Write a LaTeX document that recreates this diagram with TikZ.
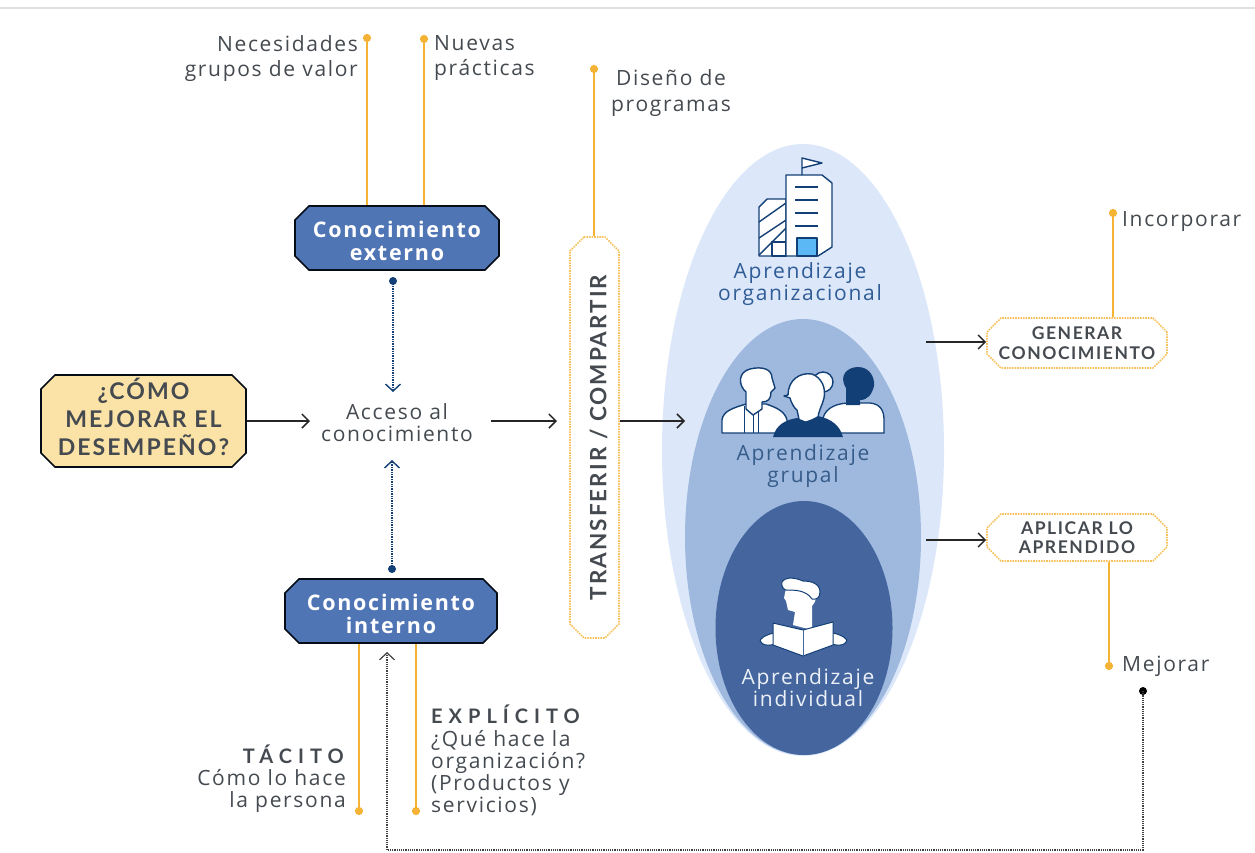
\documentclass[tikz,border=0pt]{standalone}
\usepackage{fontspec}
\setmainfont{Open Sans}[LetterSpace=8]
\newfontfamily\capsfont{Lato}[LetterSpace=9,UprightFont=* Bold]
\newfontfamily\widefont{Lato}[LetterSpace=30,UprightFont=* Bold]
\usepackage{xcolor}
\usetikzlibrary{arrows.meta,positioning,shapes.geometric,shapes.misc}
\definecolor{gold}{HTML}{F5B335}
\definecolor{ink}{HTML}{444A50}
\definecolor{navy}{HTML}{123F75}
\definecolor{boxblue}{HTML}{4F75B5}
\definecolor{cream}{HTML}{FBE2A6}
\definecolor{paleblue}{HTML}{DCE8FA}
\definecolor{midblue}{HTML}{9FB9DE}
\definecolor{deepblue}{HTML}{44659E}
\definecolor{orgtext}{HTML}{2F5C96}
\definecolor{door}{HTML}{5CB8F5}
\newcommand{\liftline}[1]{\raisebox{-1pt}[0.7em][0.2em]{#1}}

\begin{document}
\begin{tikzpicture}[
  x=1pt, y=-1pt,
  lbl/.style={font=\fontsize{21}{22}\selectfont, text=ink, inner sep=0pt},
  oval/.style={ellipse, inner sep=0pt},
  octbox/.style={chamfered rectangle, chamfered rectangle xsep=7pt, chamfered rectangle ysep=7pt,
    draw=black!80!navy, line width=1.6pt, inner sep=0pt, align=center},
  know/.style={octbox, fill=boxblue, text=white, font=\fontsize{21.5}{22.5}\bfseries\selectfont},
  verb/.style={octbox, draw=gold!80, densely dotted, text=ink, font=\capsfont\fontsize{17.5}{19.5}\selectfont},
  arrow/.style={-{Straight Barb[length=7pt,width=14pt]}, line width=1.5pt, black!85},
  dotline/.style={-{Straight Barb[length=7pt,width=15pt]}, densely dotted, line width=1.4pt, navy},
  goldline/.style={gold, line width=2.4pt, -{Circle[length=8pt]}},
  icon/.style={draw=navy, line width=1.4pt, fill=white, line join=round}
]
  \useasboundingbox (0,0) rectangle (1255,852);
  \fill[black!12] (0,7) rectangle (1255,9);

  % ovals
  \node[oval, fill=paleblue, minimum width=282pt, minimum height=612pt] (organizacional) at (803,450) {};
  \node[oval, fill=midblue, minimum width=236pt, minimum height=436pt] (grupal) at (803,537) {};
  \node[oval, fill=deepblue, minimum width=177pt, minimum height=254pt] (individual) at (804,628) {};

  \node[lbl, text=orgtext, align=center] (orgtext) at (800,284) {Aprendizaje\\organizacional};
  \node[lbl, text=navy!85, align=center] (gruptext) at (803,466) {Aprendizaje\\grupal};
  \node[lbl, text=white!80!midblue, align=center] (indtext) at (808,688) {Aprendizaje\\individual};

  % main boxes
  \node[octbox, fill=cream, text=ink, minimum width=205pt, minimum height=92pt,
    font=\capsfont\fontsize{23}{28}\selectfont] (pregunta) at (143.5,421)
    {\liftline{¿CÓMO}\\\liftline{MEJORAR EL}\\\liftline{DESEMPEÑO?}};
  \node[lbl, align=center] (acceso) at (397,423) {Acceso al\\conocimiento};
  \node[know, minimum width=204pt, minimum height=64pt] (externo) at (397,238) {\rule{0pt}{22pt}Conocimiento\\externo};
  \node[know, minimum width=212pt, minimum height=64pt] (interno) at (391,611) {\rule{0pt}{22pt}Conocimiento\\interno};
  \node[verb, rotate=90, minimum width=401pt, minimum height=49pt,
    font=\capsfont\fontsize{22.5}{24}\selectfont] (transferir) at (594.5,437.5) {\rule{0pt}{25pt}TRANSFERIR / COMPARTIR};
  \node[verb, minimum width=180pt, minimum height=50pt] (generar) at (1077,343) {GENERAR\\CONOCIMIENTO};
  \node[verb, minimum width=180pt, minimum height=47pt] (aplicar) at (1077,537.5) {APLICAR LO\\APRENDIDO};

  % gold stems
  \coordinate (necesidades) at (367,34);
  \coordinate (nuevas) at (424,35);
  \coordinate (diseno) at (594,65);
  \coordinate (incorporar) at (1113,209);
  \coordinate (mejorar) at (1109,670);
  \coordinate (tacito) at (359,815);
  \coordinate (explicito) at (416,815);
  \draw[goldline] (necesidades |- externo.north) -- (necesidades);
  \draw[goldline] (nuevas |- externo.north) -- (nuevas);
  \draw[goldline] (diseno |- transferir.east) -- (diseno);
  \draw[goldline] (incorporar |- generar.north) -- (incorporar);
  \draw[goldline] (mejorar |- aplicar.south) -- (mejorar);
  \draw[goldline] (tacito |- interno.south) -- (tacito);
  \draw[goldline] (explicito |- interno.south) -- (explicito);

  % labels of the stems
  \node[lbl, align=right, anchor=north east, font=\fontsize{21}{25.5}\selectfont] (necesidadestxt) at (358,35) {Necesidades\\grupos de valor};
  \node[lbl, align=left, anchor=north west, font=\fontsize{21}{25.5}\selectfont] (nuevastxt) at (434,35) {Nuevas\\prácticas};
  \node[lbl, align=center, font=\fontsize{21}{25.5}\selectfont] (disenotxt) at (671,93) {Diseño de\\programas};
  \node[lbl, anchor=west] (incorporartxt) at (1122,222) {Incorporar};
  \node[lbl, anchor=west] (mejorartxt) at (1122,666) {Mejorar};
  \node[lbl, font=\widefont\fontsize{20}{25}\selectfont, anchor=east] (tacitotit) at (344,754) {TÁCITO};
  \node[lbl, align=right, anchor=north east] (tacitotxt) at (346,769) {Cómo lo hace\\la persona};
  \node[lbl, font=\widefont\fontsize{20}{25}\selectfont, anchor=west] (explicitotit) at (431,714) {EXPLÍCITO};
  \node[lbl, align=left, anchor=north west] (explicitotxt) at (431,730) {¿Qué hace la\\organización?\\(Productos y\\servicios)};

  % arrows
  \coordinate (accesoin) at (310,421);
  \coordinate (transferin) at (557,421);
  \coordinate (accesoout) at (491,421);
  \coordinate (grupalin) at (685,421);
  \coordinate (generarout) at (926,342);
  \coordinate (aplicarout) at (926,540);
  \draw[arrow] (pregunta.east |- accesoin) -- (accesoin);
  \draw[arrow] (accesoout) -- (transferin);
  \draw[arrow] (transferir.south |- grupalin) -- (grupalin);
  \draw[arrow] (generarout) -- (generar.west |- generarout);
  \draw[arrow] (aplicarout) -- (aplicar.west |- aplicarout);

  % dotted links
  \coordinate (extdot) at (393,281);
  \coordinate (intdot) at (392,569);
  \coordinate (retorno) at (1143,691);
  \coordinate (retornotip) at (387,652);
  \fill[navy] (extdot) circle (4);
  \fill[navy] (intdot) circle (4);
  \fill[black] (retorno) circle (4);
  \draw[dotline] (extdot) -- (393,392);
  \draw[dotline] (intdot) -- (392,460);
  \draw[dotline, black!75, line width=1.2pt] (retorno) |- (387,850) -- (retornotip);

  % building
  \draw[icon] (759,207) -- (767,199) -- (786,199) -- (786,256) -- (759,256) -- cycle;
  \draw[icon, fill=none] (759,222) -- (786,203) (759,238) -- (786,220) (759,255) -- (786,228);
  \draw[icon] (772,242) rectangle (786,256);
  \draw[icon] (786,175) -- (822,175) -- (832,183) -- (832,247) -- (818,256) -- (786,256) -- cycle;
  \draw[icon] (802,175) -- (802,158) -- (822,163) -- (802,168);
  \draw[icon] (795,187) -- (818,187) (795,200) -- (818,200) (795,213) -- (818,213) (795,226) -- (818,226);
  \draw[icon, fill=door] (797,238) rectangle (817,256);

  % group
  \draw[icon] (722,433) -- (722,420) .. controls (723,411) and (733,408) .. (746,404)
    -- (766,404) .. controls (778,408) and (785,412) .. (787,420) -- (787,433) -- cycle;
  \draw[icon, fill=none, line width=1pt] (744,406) -- (744,433) (753,410) -- (753,433) (758,410) -- (758,433);
  \draw[icon] (746,402) -- (746,392) .. controls (738,385) and (738,372) .. (750,369)
    .. controls (762,366) and (772,369) .. (772,378) -- (775,388) -- (771,392)
    .. controls (771,399) and (768,402) .. (762,402) -- (762,409) -- (753,415) -- (746,409) -- cycle;
  \fill[white, draw=navy, line width=1.3pt] (823,433) -- (823,418) .. controls (826,407) and (838,403) .. (850,403)
    -- (870,403) .. controls (880,404) and (884,410) .. (884,420) -- (884,433) -- cycle;
  \fill[navy] (846,405) -- (846,388) .. controls (838,375) and (848,367) .. (858,367)
    .. controls (870,367) and (875,378) .. (874,386) .. controls (872,394) and (868,400) .. (860,400)
    -- (860,405) -- cycle;
  \draw[icon] (823,382) circle (10);
  \draw[icon] (788,395) .. controls (788,380) and (800,372) .. (812,374)
    .. controls (822,378) and (826,388) .. (824,398) .. controls (822,406) and (818,412) .. (818,418)
    -- (800,424) -- (797,410) .. controls (794,408) and (791,402) .. (790,398) -- (784,396) -- cycle;
  \fill[navy] (773,437) .. controls (776,425) and (785,420) .. (797,418) -- (807,422) -- (818,416)
    .. controls (832,419) and (840,426) .. (843,437) -- cycle;

  % reader
  \fill[white] (786,588) -- (784,598) -- (786,601) -- (788,610) -- (795,612) -- (793,625) -- (812,630) -- (812,606)
    .. controls (816,602) and (817,597) .. (815,590) -- cycle;
  \fill[white, draw=navy, line width=1pt] (782,582) .. controls (786,576) and (796,578) .. (803,581)
    .. controls (812,581) and (820,584) .. (820,592) .. controls (820,598) and (816,600) .. (812,599)
    .. controls (806,590) and (795,590) .. (786,590) .. controls (783,589) and (781,586) .. (782,582) -- cycle;
  \draw[icon, fill=white, line width=1pt] (760,640) .. controls (764,635) and (772,633) .. (780,632) -- (780,642)
    .. controls (772,646) and (762,647) .. (760,640) -- cycle;
  \draw[icon, fill=white, line width=1pt] (847,640) .. controls (843,635) and (835,633) .. (827,632) -- (827,642)
    .. controls (835,646) and (845,647) .. (847,640) -- cycle;
  \draw[icon, line width=1pt] (773,623) -- (803,630) -- (833,622) -- (833,645)
    -- (803,656) -- (773,645) -- cycle;
  \draw[deepblue, line width=1pt] (803,630) -- (803,656);
\end{tikzpicture}
\end{document}
